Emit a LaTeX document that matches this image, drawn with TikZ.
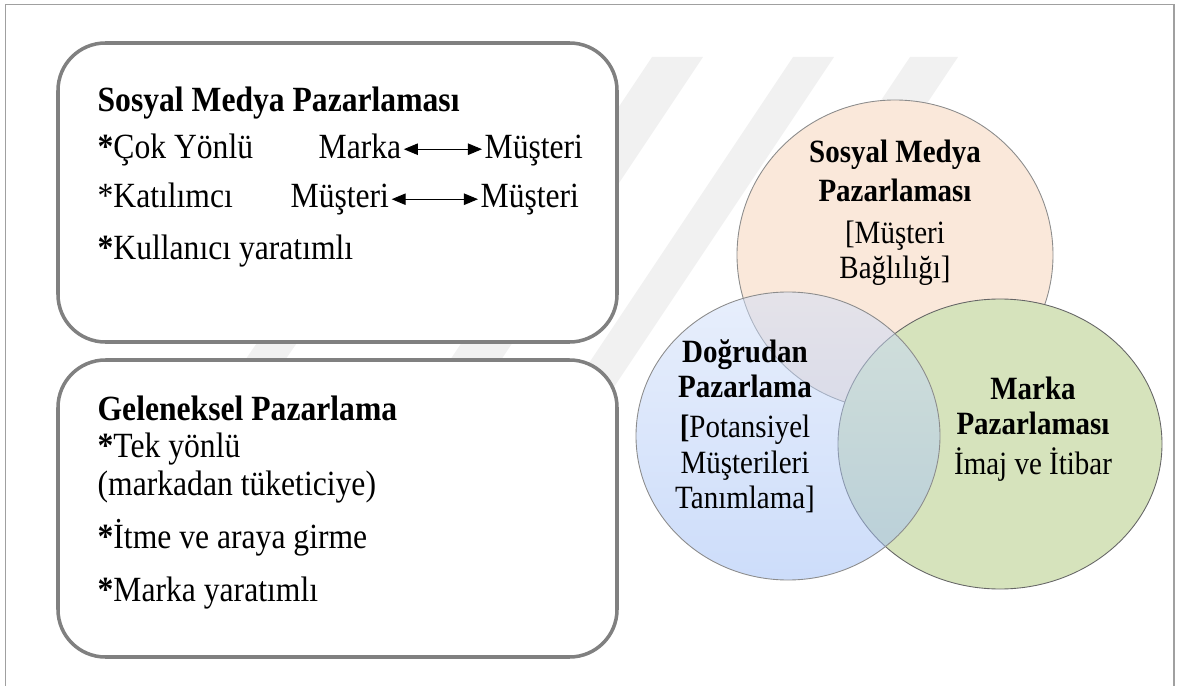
\documentclass[tikz,border=0pt]{standalone}
\usepackage{fontspec}
\usepackage{graphicx}
\setmainfont{Liberation Serif}
\usetikzlibrary{arrows.meta}
\definecolor{framegray}{RGB}{160,160,160}
\definecolor{boxgray}{RGB}{128,128,128}
\definecolor{smmfill}{RGB}{250,232,218}
\definecolor{mpfill}{RGB}{214,227,188}
\definecolor{dmtop}{RGB}{209,223,249}
\definecolor{dmbot}{RGB}{155,187,245}
\definecolor{wmark}{RGB}{241,241,241}
\newcommand\tl[1]{\scalebox{1}[1.12]{#1}}
\tikzset{
    frame/.style={draw=framegray, line width=0.85pt},
    panel/.style={draw=boxgray, line width=2pt, rounded corners=27pt, fill=white},
    txt/.style={anchor=base west, inner sep=0pt, outer sep=1.5pt, font=\fontsize{18}{22}\selectfont},
    ttl/.style={txt, font=\fontsize{18}{22}\selectfont\bfseries},
    vline/.style={draw=black!45, line width=0.5pt},
    ctxt/.style={align=center, inner sep=0pt, font=\fontsize{16.5}{20}\selectfont},
    both/.style={{Triangle[length=8pt,width=6.5pt]}-{Triangle[length=8pt,width=6.5pt]}, line width=0.6pt},
    wm/.style={fill=wmark},
}
\begin{document}
\begin{tikzpicture}[x=0.02cm, y=-0.02cm]
\useasboundingbox (0,0) rectangle (1177,686);
% watermark
\fill[wm] (390,150) -- (430,150) -- (230,440) -- (190,440) -- cycle;
\fill[wm] (652,57) -- (703,57) -- (461,420) -- (410,420) -- cycle;
\fill[wm] (793,57) -- (834,57) -- (592,420) -- (551,420) -- cycle;
\fill[wm] (910,57) -- (958,57) -- (829,250) -- (781,250) -- cycle;
\draw[frame] (5.5,4.5) rectangle (1174,700);
% left panels
\draw[panel] (58,43) rectangle (617,342);
\draw[panel] (58,360) rectangle (617,657);
% venn
\draw[vline, fill=smmfill] (895,255) ellipse [x radius=158, y radius=155];
\draw[vline, draw=black!60, fill=mpfill] (1000,444) ellipse [x radius=162, y radius=145];
\draw[vline, top color=dmtop, bottom color=dmbot, fill opacity=0.5] (788,436) ellipse [x radius=152, y radius=144];
% box texts
\node[ttl] (smtitle) at (95,112) {\tl{Sosyal Medya Pazarlaması}};
\node[txt] (cok) at (95,158) {\tl{\textbf{*}Çok Yönlü}};
\node[txt] (mk1) at (316,158) {\tl{Marka}};
\node[txt] (mu1) at (482,158) {\tl{Müşteri}};
\node[txt] (kat) at (95,208) {\tl{*Katılımcı}};
\node[txt] (mu2) at (288,208) {\tl{Müşteri}};
\node[txt] (mu3) at (478,208) {\tl{Müşteri}};
\node[txt] (kul) at (95,259) {\tl{\textbf{*}Kullanıcı yaratımlı}};
\draw[both] ([yshift=5pt]mk1.base east) -- ([yshift=5pt]mu1.base west);
\draw[both] ([yshift=5pt]mu2.base east) -- ([yshift=5pt]mu3.base west);
\node[ttl] (gptitle) at (95,420) {\tl{Geleneksel Pazarlama}};
\node[txt] (tek) at (95,457) {\tl{\textbf{*}Tek yönlü}};
\node[txt] (mtk) at (95,495) {\tl{(markadan tüketiciye)}};
\node[txt] (itme) at (95,548) {\tl{\textbf{*}İtme ve araya girme}};
\node[txt] (myr) at (95,601) {\tl{\textbf{*}Marka yaratımlı}};
% venn texts
\node[ctxt] (smmtxt) at (895,213) {\tl{\textbf{Sosyal Medya}}\\[2pt]\tl{\textbf{Pazarlaması}}\\[4pt]\tl{[Müşteri}\\\tl{Bağlılığı]}};
\node[ctxt] (dmtxt) at (745,426) {\tl{\textbf{Doğrudan}}\\\tl{\textbf{Pazarlama}}\\[3pt]\tl{\textbf{[}Potansiyel}\\\tl{Müşterileri}\\\tl{Tanımlama]}};
\node[ctxt] (mptxt) at (1033,429) {\tl{\textbf{Marka}}\\\tl{\textbf{Pazarlaması}}\\[3pt]\tl{İmaj ve İtibar}};
\end{tikzpicture}
\end{document}
